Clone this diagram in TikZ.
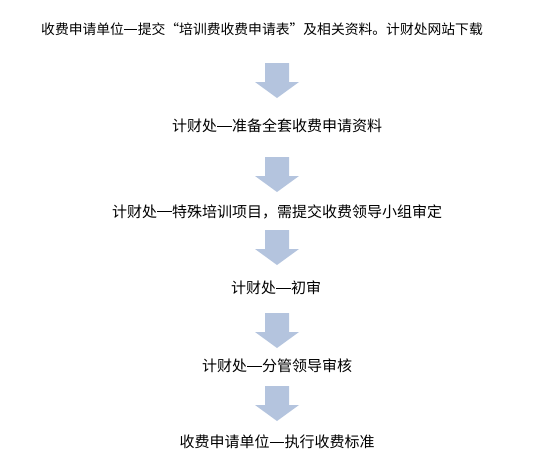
\documentclass[tikz,border=0pt]{standalone}
\usepackage{fontspec}
\newfontfamily\cjk{Noto Sans CJK SC}
\definecolor{arrowblue}{RGB}{180,196,222}
\newcommand\cdash{\makebox[1em][c]{\rule[0.36em]{0.94em}{0.055em}}}
\tikzset{
  steptext/.style={font=\cjk\fontsize{15pt}{17pt}\selectfont, text=black, inner sep=0pt, anchor=center},
  arrowfill/.style={fill=arrowblue}
}
\newcommand\flowarrow[1]{\fill[arrowfill] (#1) ++(-12,0) -- ++(24,0) -- ++(0,19) -- ++(10,0) -- ++(-22,16) -- ++(-22,-16) -- ++(10,0) -- cycle;}
\begin{document}
\begin{tikzpicture}[x=1pt,y=-1pt]
\useasboundingbox (0,0) rectangle (554,472);
\node[steptext, font=\cjk\fontsize{13.8pt}{16pt}\selectfont] (t1) at (262,29) {收费申请单位\cdash 提交“培训费收费申请表”及相关资料。计财处网站下载};
\node[steptext] (t2) at (277,126) {计财处\cdash 准备全套收费申请资料};
\node[steptext] (t3) at (277,212) {计财处\cdash 特殊培训项目，需提交收费领导小组审定};
\node[steptext] (t4) at (276,288) {计财处\cdash 初审};
\node[steptext] (t5) at (277,366) {计财处\cdash 分管领导审核};
\node[steptext] (t6) at (277,442) {收费申请单位\cdash 执行收费标准};
\coordinate (a1) at (277,63);
\coordinate (a2) at (277,157);
\coordinate (a3) at (277,230);
\coordinate (a4) at (277,313);
\coordinate (a5) at (277,386);
\flowarrow{a1}
\flowarrow{a2}
\flowarrow{a3}
\flowarrow{a4}
\flowarrow{a5}
\end{tikzpicture}
\end{document}
